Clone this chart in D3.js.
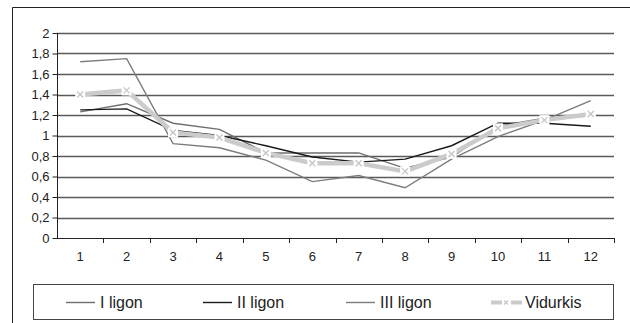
<!DOCTYPE html>
<html><head><meta charset="utf-8">
<script src="https://cdn.jsdelivr.net/npm/d3@7"></script>
<style>body{margin:0;background:#fff}svg{display:block;font-family:"Liberation Sans",Arial,sans-serif}</style>
</head><body><svg id="c" width="630" height="323"></svg>
<script>
const categories = ["1","2","3","4","5","6","7","8","9","10","11","12"];
const seriesNames = ["I ligon","II ligon","III ligon","Vidurkis"];
const ligonI   = [1.23,1.31,1.12,1.06,0.83,0.83,0.83,0.68,0.79,1.09,1.17,1.19];
const ligonII  = [1.25,1.26,1.05,1.00,0.90,0.79,0.74,0.77,0.90,1.12,1.12,1.09];
const ligonIII = [1.72,1.75,0.92,0.88,0.76,0.55,0.61,0.49,0.77,0.99,1.15,1.34];
const vidurkis = [1.40,1.44,1.03,0.98,0.83,0.73,0.73,0.65,0.82,1.07,1.15,1.21];
const yTicks = [0,0.2,0.4,0.6,0.8,1,1.2,1.4,1.6,1.8,2];

const svg = d3.select("#c");
const fmt = v => String(v).replace(".", ",");
const x = d3.scaleBand().domain(categories).range([57, 614]);
const y = d3.scaleLinear().domain([0, 2]).range([238, 33]);

// outer frame (clipped on right/bottom)
svg.append("path").attr("d","M12.5,330 V7.5 H640").attr("fill","none").attr("stroke","#222").attr("stroke-width",1);

// gridlines
svg.append("g").selectAll("line").data(yTicks.filter(d=>d>0)).join("line")
  .attr("x1",57).attr("x2",614).attr("y1",d=>Math.round(y(d))+0.5).attr("y2",d=>Math.round(y(d))+0.5)
  .attr("stroke","#5a5a5a").attr("stroke-width",1.3);

// y axis
const yAxis = svg.append("g").attr("transform","translate(57.5,0)")
  .call(d3.axisLeft(y).tickValues(yTicks).tickFormat(fmt).tickSize(5).tickPadding(3));
yAxis.select(".domain").attr("stroke","#222").attr("d","M0,"+y(0)+"V"+y(2));
yAxis.selectAll(".tick line").attr("stroke","#222");
yAxis.selectAll("text").attr("font-size",13).attr("fill","#222").attr("font-family","Liberation Sans, Arial, sans-serif");

// x axis
const xAxis = svg.append("g").attr("transform","translate(0,"+(Math.round(y(0))+0.5)+")")
  .call(d3.axisBottom(x).tickSize(0).tickPadding(13));
xAxis.select(".domain").attr("stroke","#222").attr("d","M57,0H614");
xAxis.selectAll("text").attr("font-size",13).attr("fill","#222").attr("font-family","Liberation Sans, Arial, sans-serif");
svg.append("g").selectAll("line").data(d3.range(1,13)).join("line")
  .attr("x1",i=>Math.round(57+i*x.bandwidth())+0.5).attr("x2",i=>Math.round(57+i*x.bandwidth())+0.5)
  .attr("y1",y(0)).attr("y2",y(0)+5).attr("stroke","#222");

const cx = c => x(c) + x.bandwidth()/2;
const line = d3.line().x((d,i)=>cx(categories[i])).y(d=>y(d));

const styles = [
  {data: ligonI,   color:"#6e6e6e", w:1.4},
  {data: ligonII,  color:"#1a1a1a", w:1.4},
  {data: ligonIII, color:"#7c7c7c", w:1.4}
];
styles.forEach(s=>{
  svg.append("path").datum(s.data).attr("d",line).attr("fill","none")
    .attr("stroke",s.color).attr("stroke-width",s.w);
});
// Vidurkis
svg.append("path").datum(vidurkis).attr("d",line).attr("fill","none")
  .attr("stroke","#cbcbcb").attr("stroke-width",4.5);
const mk = svg.append("g").selectAll("g").data(vidurkis).join("g")
  .attr("transform",(d,i)=>`translate(${cx(categories[i])},${y(d)})`);
mk.append("rect").attr("x",-5).attr("y",-5).attr("width",10).attr("height",10).attr("fill","#fff");
mk.append("path").attr("d","M-3,-3L3,3M-3,3L3,-3").attr("stroke","#c4c4c4").attr("stroke-width",1.3);

// legend
svg.append("rect").attr("x",33.5).attr("y",284.5).attr("width",580).attr("height",35)
  .attr("fill","#fff").attr("stroke","#444").attr("stroke-width",1);
const leg = [
  {x:66, color:"#6e6e6e", w:1.4, tx:100},
  {x:203, color:"#1a1a1a", w:1.4, tx:237},
  {x:346, color:"#7c7c7c", w:1.4, tx:380},
  {x:491, color:"#cbcbcb", w:4, tx:525, marker:true}
];
leg.forEach((l,i)=>{
  const g = svg.append("g");
  if(l.marker){
    g.append("line").attr("x1",l.x).attr("x2",l.x+11).attr("y1",302.5).attr("y2",302.5).attr("stroke",l.color).attr("stroke-width",l.w);
    g.append("line").attr("x1",l.x+20).attr("x2",l.x+31).attr("y1",302.5).attr("y2",302.5).attr("stroke",l.color).attr("stroke-width",l.w);
    g.append("path").attr("d",`M${l.x+13},${300.5}l4,4M${l.x+13},${304.5}l4,-4`).attr("stroke","#c4c4c4").attr("stroke-width",1.1);
  } else {
    g.append("line").attr("x1",l.x).attr("x2",l.x+29).attr("y1",302.5).attr("y2",302.5).attr("stroke",l.color).attr("stroke-width",l.w);
  }
  g.append("text").attr("x",l.tx).attr("y",308).attr("font-size",16).attr("fill","#222").text(seriesNames[i]);
});
</script></body></html>
